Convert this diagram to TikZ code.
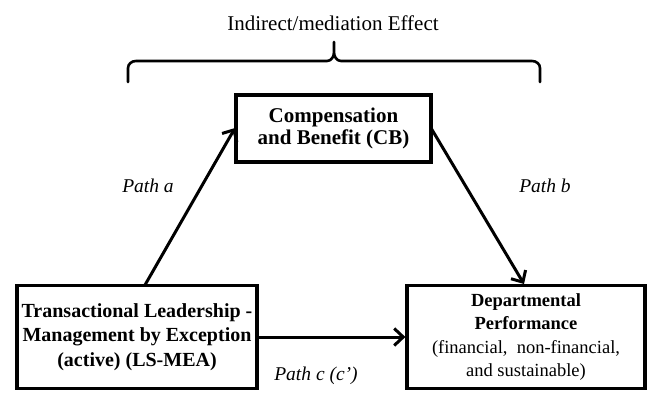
\documentclass[tikz,border=0pt]{standalone}
\usepackage{fontspec}
\setmainfont{Liberation Serif}
\usetikzlibrary{arrows.meta}
\begin{document}
\begin{tikzpicture}[x=1pt,y=-1pt,
  box/.style={draw=black,line width=3.2pt,inner sep=0pt,align=center},
  link/.style={line width=3pt,-{Straight Barb[length=9pt,width=17pt,line width=3pt]}},
  pathlabel/.style={font=\fontsize{19.5}{22}\selectfont\itshape}]
\useasboundingbox (0,0) rectangle (653,393);
% boxes
\node[box,minimum width=195pt,minimum height=67pt,
  font=\fontsize{21}{22}\selectfont\bfseries] (cb) at (333.5,128.5)
  {Compensation\\and Benefit (CB)};
\node[box,minimum width=240pt,minimum height=103pt,
  font=\fontsize{20}{24.5}\selectfont\bfseries] (ls) at (137,337)
  {Transactional Leadership -\\Management by Exception\\(active) (LS-MEA)};
\node[box,minimum width=238pt,minimum height=103pt,
  font=\fontsize{18.5}{23.5}\selectfont] (dp) at (526,337)
  {\textbf{Departmental}\\\textbf{Performance}\\(financial,\ \ non-financial,\\and sustainable)};
% connectors
\coordinate (a0) at (145,285);
\coordinate (a1) at (235,128);
\draw[link] (a0) -- (a1);
\coordinate (b0) at (431,128);
\coordinate (b1) at (524,284);
\draw[link] (b0) -- (b1);
\draw[link] (ls.east) -- (dp.west);
% labels
\node[pathlabel] (pa) at (148,186) {Path a};
\node[pathlabel] (pb) at (545,186) {Path b};
\node[pathlabel] (pc) at (316,376) {Path c (c')};
% brace over the indirect path
\draw[line width=2.6pt,line cap=round,line join=round]
  (128,82) -- (128,68) to[out=90,in=180] (136,61) -- (327,61)
  to[out=0,in=-90] (334,52) -- (334,42)
  (334,52) to[out=-90,in=180] (341,61) -- (532,61)
  to[out=0,in=90] (540,68) -- (540,82);
\node[font=\fontsize{21}{22}\selectfont] (ie) at (333,23) {Indirect/mediation Effect};
\end{tikzpicture}
\end{document}
